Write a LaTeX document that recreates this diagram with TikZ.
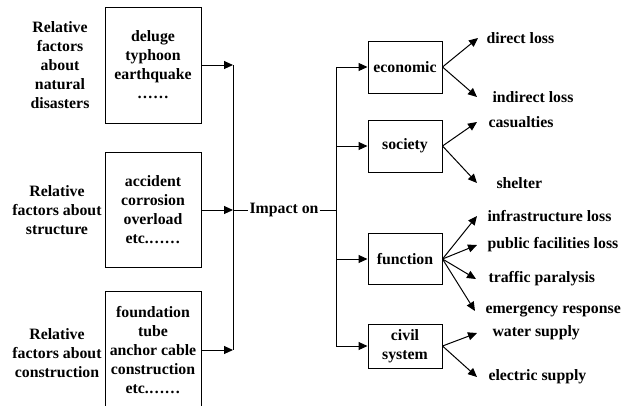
\documentclass[tikz,border=0pt]{standalone}
\usepackage{fontspec}
\setmainfont{Liberation Serif}
\usetikzlibrary{arrows.meta}

\begin{document}
\begin{tikzpicture}[x=1pt, y=-1pt, line width=1pt,
    every node/.style={font=\fontsize{15.8}{19}\selectfont\bfseries},
    cause/.style={align=center, inner sep=0pt},
    factor/.style={draw, minimum width=96pt, align=center, inner sep=0pt},
    aspect/.style={draw, minimum width=74pt, align=center, inner sep=0pt},
    lbl/.style={anchor=west, inner ysep=0pt},
    arr/.style={-{Triangle[length=9pt,width=8pt]}}]
    \useasboundingbox (0,0) rectangle (623,405);

    % Relative factors
    \node[cause] (c1) at (60,65) {Relative\\factors\\about\\natural\\disasters};
    \node[cause] (c2) at (57,210) {Relative\\factors about\\structure};
    \node[cause] (c3) at (57,353) {Relative\\factors about\\construction};

    \node[factor, minimum height=116pt] (f1) at (153,65) {deluge\\typhoon\\earthquake\\……};
    \node[factor, minimum height=115pt] (f2) at (153,210) {accident\\corrosion\\overload\\etc.……};
    \node[factor, minimum height=118pt] (f3) at (153,350) {foundation\\tube\\anchor cable\\construction\\etc.……};

    % Collect into impact
    \coordinate (j1) at (233,65);
    \coordinate (j2) at (233,210);
    \coordinate (j3) at (233,350);
    \draw (j1) -- (j3);
    \draw[arr] (f1) -- (j1);
    \draw[arr] (f2) -- (j2);
    \draw[arr] (f3) -- (j3);

    \node[inner sep=1pt] (imp) at (284,210) {Impact on};
    \coordinate (k0) at (336,210);
    \draw (j2) -- (imp) -- (k0);

    % Aspects of impact
    \node[aspect, minimum height=52pt] (eco) at (405,67) {economic};
    \node[aspect, minimum height=52pt] (soc) at (405,146) {society};
    \node[aspect, minimum height=51pt] (fun) at (405,259) {function};
    \node[aspect, minimum height=44pt] (civ) at (405,346) {civil\\system};

    \coordinate (k1) at (336,67);
    \coordinate (k2) at (336,146);
    \coordinate (k3) at (336,259);
    \coordinate (k4) at (336,346);
    \draw (k1) -- (k4);
    \draw[arr] (k1) -- (eco);
    \draw[arr] (k2) -- (soc);
    \draw[arr] (k3) -- (fun);
    \draw[arr] (k4) -- (civ);

    % Consequences
    \node[lbl, inner xsep=8pt] (dl) at (478,38) {direct loss};
    \node[lbl, inner xsep=15pt] (il) at (477,97) {indirect loss};
    \node[lbl, inner xsep=11pt] (cas) at (477,122) {casualties};
    \node[lbl, inner xsep=19pt] (she) at (477,183) {shelter};
    \node[lbl, inner xsep=10pt] (inf) at (477,216) {infrastructure loss};
    \node[lbl, inner xsep=10pt] (pub) at (477,245) {public facilities loss};
    \node[lbl, inner xsep=12pt] (tra) at (476,279) {traffic paralysis};
    \node[lbl, inner xsep=10pt] (eme) at (475,311) {emergency response};
    \node[lbl, inner xsep=15pt] (wat) at (477,333) {water supply};
    \node[lbl, inner xsep=11pt] (ele) at (477,377) {electric supply};

    \draw[arr] (eco.east) -- (dl.west);
    \draw[arr] (eco.east) -- (il.west);
    \draw[arr] (soc.east) -- (cas.west);
    \draw[arr] (soc.east) -- (she.west);
    \draw[arr] (fun.east) -- (inf.west);
    \draw[arr] (fun.east) -- (pub.west);
    \draw[arr] (fun.east) -- (tra.west);
    \draw[arr] (fun.east) -- (eme.west);
    \draw[arr] (civ.east) -- (wat.west);
    \draw[arr] (civ.east) -- (ele.west);
\end{tikzpicture}
\end{document}
